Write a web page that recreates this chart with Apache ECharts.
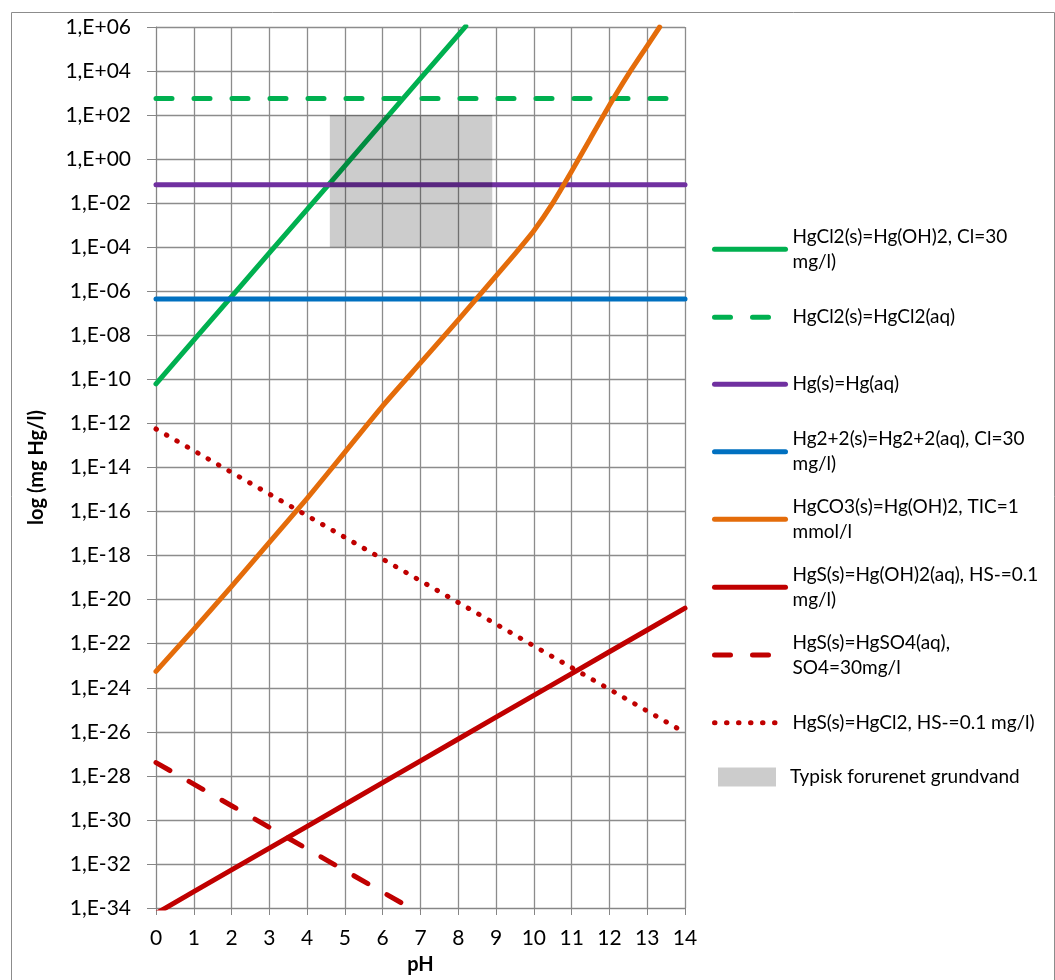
<!DOCTYPE html>
<html><head><meta charset="utf-8">
<script src="https://cdn.jsdelivr.net/npm/echarts@6/dist/echarts.min.js"></script>
<style>html,body{margin:0;padding:0;background:#fff}#chart{width:1055px;height:980px}</style>
</head><body><div id="chart"></div>
<script>
// ---- data (pH vs. mg Hg/l) ----
const seriesNames = [
  'HgCl2(s)=Hg(OH)2, Cl=30 mg/l)',
  'HgCl2(s)=HgCl2(aq)',
  'Hg(s)=Hg(aq)',
  'Hg2+2(s)=Hg2+2(aq), Cl=30 mg/l)',
  'HgCO3(s)=Hg(OH)2, TIC=1 mmol/l',
  'HgS(s)=Hg(OH)2(aq), HS-=0.1 mg/l)',
  'HgS(s)=HgSO4(aq), SO4=30mg/l',
  'HgS(s)=HgCl2, HS-=0.1 mg/l)',
  'Typisk forurenet grundvand'
];
const legendLabels = [
  'HgCl2(s)=Hg(OH)2, Cl=30\nmg/l)',
  'HgCl2(s)=HgCl2(aq)',
  'Hg(s)=Hg(aq)',
  'Hg2+2(s)=Hg2+2(aq), Cl=30\nmg/l)',
  'HgCO3(s)=Hg(OH)2, TIC=1\nmmol/l',
  'HgS(s)=Hg(OH)2(aq), HS-=0.1\nmg/l)',
  'HgS(s)=HgSO4(aq),\nSO4=30mg/l',
  'HgS(s)=HgCl2, HS-=0.1 mg/l)',
  'Typisk forurenet grundvand'
];
const xTicks = [0,1,2,3,4,5,6,7,8,9,10,11,12,13,14];
const yExpTicks = [-34, 6]; // axis range in powers of ten, labelled every 2

const phGreen = [0, 1, 2, 3, 4, 5, 6, 7, 8, 8.2];
const hgcl2OH2 = [6.3e-11, 6.0e-9, 5.8e-7, 5.5e-5, 5.2e-3, 5.0e-1, 4.8e1, 4.6e3, 4.4e5, 1.1e6];

const phFlat = [0, 14];
const hgcl2Aq = [5.6e2, 5.6e2];
const hgAq = [6.8e-2, 6.8e-2];
const hg2Aq = [4.5e-7, 4.5e-7];

const phOrange = [0, 1, 2, 3, 4, 5, 6, 7, 8, 9, 9.5, 10, 10.5, 11, 11.5, 12, 12.5, 13, 13.33];
const hgco3 = [5.5e-24, 4.5e-22, 4.0e-20, 4.0e-18, 4.0e-16, 5.0e-14, 6.3e-12, 5.6e-10, 5.0e-8,
               5.0e-6, 5.0e-5, 5.6e-4, 1.0e-2, 2.8e-1, 8.9e0, 2.8e2, 7.1e3, 1.4e5, 1.0e6];

const phAll = [0, 1, 2, 3, 4, 5, 6, 7, 8, 9, 10, 11, 12, 13, 14];
const hgsOH2 = [5.6e-35, 5.5e-34, 5.4e-33, 5.2e-32, 5.1e-31, 5.0e-30, 4.9e-29, 4.8e-28,
                4.7e-27, 4.6e-26, 4.5e-25, 4.4e-24, 4.3e-23, 4.2e-22, 4.1e-21];
const hgsCl2 = [5.6e-13, 5.8e-14, 6.0e-15, 6.2e-16, 6.5e-17, 6.7e-18, 6.9e-19, 7.2e-20,
                7.4e-21, 7.7e-22, 7.9e-23, 8.2e-24, 8.5e-25, 8.8e-26, 9.1e-27];

const phSO4 = [0, 1, 2, 3, 4, 5, 6, 7];
const hgsSO4 = [4.0e-28, 4.2e-29, 4.4e-30, 4.6e-31, 4.8e-32, 5.0e-33, 5.2e-34, 5.5e-35];

const boxPH = [4.6, 8.9];
const boxConc = [1e-4, 1e2];

// ---- build (y plotted as log10 of concentration, as Excel's log axis does) ----
const lg = v => Math.log10(v);
const zip = (xs, ys) => xs.map((x, i) => [x, lg(ys[i])]);
const FONT = 'Lato';
const DASH = [16, 22];
const DOT = [0.5, 11.5];
const seriesDefs = [
  { x: phGreen, y: hgcl2OH2, color: '#00B050', type: 'solid' },
  { x: phFlat, y: hgcl2Aq, color: '#00B050', type: DASH },
  { x: phFlat, y: hgAq, color: '#7030A0', type: 'solid' },
  { x: phFlat, y: hg2Aq, color: '#0070C0', type: 'solid' },
  { x: phOrange, y: hgco3, color: '#E46C0A', type: 'solid' },
  { x: phAll, y: hgsOH2, color: '#C00000', type: 'solid' },
  { x: phSO4, y: hgsSO4, color: '#C00000', type: DASH },
  { x: phAll, y: hgsCl2, color: '#C00000', type: DOT }
];
const LW = 5;
const series = seriesDefs.map((d, i) => ({
  type: 'line',
  name: seriesNames[i],
  data: zip(d.x, d.y),
  symbol: 'none',
  clip: true,
  smooth: i === 4 ? 0.2 : false,
  z: 3,
  lineStyle: { color: d.color, width: LW, type: d.type, cap: 'round', join: 'round' },
  itemStyle: { color: d.color },
  emphasis: { disabled: true }
}));
series.push({
  type: 'custom',
  name: seriesNames[8],
  data: [[boxPH[0], boxPH[1], lg(boxConc[0]), lg(boxConc[1])]],
  encode: { x: [0, 1], y: [2, 3] },
  z: 6,
  itemStyle: { color: 'rgba(0,0,0,0.2)' },
  renderItem: function (params, api) {
    const a = api.coord([api.value(0), api.value(3)]);
    const b = api.coord([api.value(1), api.value(2)]);
    return { type: 'rect', shape: { x: a[0], y: a[1], width: b[0] - a[0], height: b[1] - a[1] },
             style: { fill: 'rgba(0,0,0,0.2)' } };
  }
});

const legendCenters = [249.3, 317.3, 384.3, 451.7, 519.3, 587.3, 655, 722.7, 777];
const LH = 25;
const legends = seriesNames.map((name, i) => {
  const twoLine = legendLabels[i].indexOf('\n') >= 0;
  const isBox = i === 8;
  const top = legendCenters[i] - (twoLine ? LH * 1.5 : LH / 2);
  const base = {
    data: [name], orient: 'vertical', padding: 0, selectedMode: false,
    left: isBox ? 718 : 712, top: top,
    itemWidth: isBox ? 58 : 71, itemHeight: isBox ? 19 : 14,
    formatter: () => legendLabels[i],
    textStyle: { fontFamily: FONT, fontSize: 19, color: '#000', lineHeight: LH,
                 padding: twoLine ? [LH, 0, 0, 2] : [0, 0, 0, isBox ? 9 : 2] }
  };
  if (isBox) {
    base.icon = 'rect';
    base.itemStyle = { color: 'rgba(0,0,0,0.2)' };
  } else {
    const d = seriesDefs[i];
    base.lineStyle = { color: d.color, width: LW, type: d.type, cap: 'round' };
    base.itemStyle = { opacity: 0 };
  }
  return base;
});

function fmtExp(e) {
  const n = Math.round(e);
  return '1,E' + (n < 0 ? '-' : '+') + String(Math.abs(n)).padStart(2, '0');
}

const option = {
  animation: false,
  backgroundColor: '#fff',
  textStyle: { fontFamily: FONT },
  grid: { left: 156, right: 370, top: 27, bottom: 69, containLabel: false },
  xAxis: {
    type: 'value', min: xTicks[0], max: xTicks[xTicks.length - 1], interval: 1,
    name: 'pH', nameLocation: 'middle', nameGap: 47,
    nameTextStyle: { fontFamily: FONT, fontWeight: 'bold', fontSize: 20, color: '#000' },
    axisLine: { show: true, onZero: false, lineStyle: { color: '#868686', width: 1 } },
    axisTick: { show: true, length: 7, lineStyle: { color: '#868686' } },
    axisLabel: { fontFamily: FONT, fontSize: 21, color: '#000', margin: 20 },
    splitLine: { show: true, lineStyle: { color: '#8c8c8c', width: 1.3 } }
  },
  yAxis: {
    type: 'value', min: yExpTicks[0], max: yExpTicks[1], interval: 2,
    name: 'log (mg Hg/l)', nameLocation: 'middle', nameGap: 109, nameRotate: 90,
    nameTextStyle: { fontFamily: FONT, fontWeight: 'bold', fontSize: 20, color: '#000' },
    axisLine: { show: true, onZero: false, lineStyle: { color: '#868686', width: 1 } },
    axisTick: { show: true, length: 9, lineStyle: { color: '#868686' } },
    axisLabel: { fontFamily: FONT, fontSize: 21, color: '#000', margin: 25, formatter: fmtExp },
    splitLine: { show: true, lineStyle: { color: '#8c8c8c', width: 1.3 } }
  },
  legend: legends,
  graphic: [{
    type: 'rect', left: 9, top: 10, z: -10, silent: true,
    shape: { width: 1043, height: 1000 },
    style: { fill: 'none', stroke: '#8c8c8c', lineWidth: 1 }
  }],
  series: series
};

const chart = echarts.init(document.getElementById('chart'), null, { renderer: 'canvas' });
chart.setOption(option);
</script>
</body></html>
